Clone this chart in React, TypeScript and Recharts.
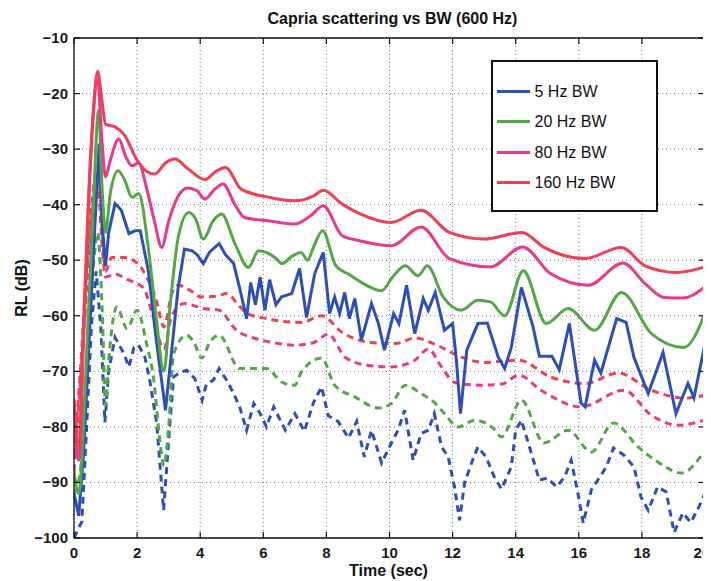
import React from 'react';
import { LineChart, Line, XAxis, YAxis, CartesianGrid, Legend } from 'recharts';

const FONT = '"Liberation Sans", Arial, Helvetica, sans-serif';

const xTicks = [0, 2, 4, 6, 8, 10, 12, 14, 16, 18, 20];
const yTicks = [-100, -90, -80, -70, -60, -50, -40, -30, -20, -10];
const legendNames = ['5 Hz BW', '20 Hz BW', '80 Hz BW', '160 Hz BW'];
const seriesColors = ['#2d4fb8', '#52a845', '#e8398a', '#ef3f55'];

const titleText = 'Capria scattering vs BW (600 Hz)';
const xLabelText = 'Time (sec)';
const yLabelText = 'RL (dB)';

// [time (sec), RL (dB)]
const bw160Solid: [number, number][] = [
  [0, -75], [0.15, -84], [0.3, -62], [0.45, -40], [0.6, -24], [0.75, -16], [0.88, -21], [1.0, -25.5],
  [1.3, -26], [1.6, -27.5], [2.0, -32], [2.3, -34], [2.56, -34.5], [2.9, -32.5], [3.2, -31.8], [3.6, -33.5],
  [4.15, -35.5], [4.5, -34], [4.8, -33.3], [5.3, -37.2], [6.2, -38.7], [7.0, -39.3], [7.6, -38.4], [7.9, -37.4],
  [8.5, -39.9], [9.05, -41.6], [10.06, -43.2], [11.0, -41], [11.9, -45], [13.0, -46.2], [14.2, -45], [14.9, -47.7],
  [16.2, -49.7], [17.35, -47.7], [18.1, -51], [19.1, -52.2], [20, -51.2],
];

const bw80Solid: [number, number][] = [
  [0, -76], [0.15, -86], [0.3, -65], [0.45, -42], [0.6, -25], [0.75, -17.5], [0.88, -28], [1.0, -35],
  [1.15, -32], [1.42, -28.2], [1.65, -31.5], [1.84, -33], [2.05, -32.5], [2.3, -37], [2.55, -43], [2.78, -47.7],
  [3.0, -43], [3.3, -38.5], [3.6, -37], [3.9, -37.5], [4.15, -39], [4.45, -37.3], [4.73, -36.3], [5.1, -40],
  [5.4, -42.3], [6.15, -42.9], [7.0, -43.5], [7.5, -42], [7.9, -40.2], [8.5, -45.6], [9.05, -46.5], [10.06, -47.4],
  [11.0, -44], [11.9, -49.7], [13.2, -51.2], [14.22, -47.6], [15.1, -52.4], [16.3, -54.5], [17.4, -50.5],
  [18.1, -54.2], [18.7, -56.7], [19.3, -56.8], [20, -54.8],
];

const bw20Solid: [number, number][] = [
  [0, -88], [0.15, -92], [0.3, -80], [0.45, -60], [0.6, -42], [0.78, -23], [0.9, -38], [1.0, -45],
  [1.15, -38], [1.4, -33.9], [1.6, -35.5], [1.84, -38.7], [2.05, -38], [2.36, -48], [2.6, -60], [2.85, -70],
  [3.05, -58], [3.3, -46], [3.63, -41.4], [3.85, -42.5], [4.1, -46.2], [4.4, -43], [4.68, -41.7], [5.1, -47],
  [5.53, -51.3], [5.85, -48.3], [6.37, -49.5], [6.6, -50.6], [6.9, -49.3], [7.2, -48.6], [7.4, -50], [7.6, -47.5],
  [7.88, -44.7], [8.3, -51], [8.7, -52.5], [9.2, -54.3], [9.75, -55.5], [10.1, -53], [10.5, -51], [10.9, -52.8],
  [11.2, -51], [11.7, -56.6], [12.28, -59], [12.8, -57.2], [13.2, -57.5], [13.65, -60], [14.24, -51.9],
  [14.97, -61.4], [15.66, -58.7], [16.5, -62.6], [17.35, -55.8], [18.3, -63.2], [19.33, -65.7], [20, -59.6],
];

const bw5Solid: [number, number][] = [
  [0, -92], [0.15, -96], [0.3, -85], [0.5, -62], [0.65, -45], [0.8, -29], [0.9, -44], [1.0, -51],
  [1.1, -45], [1.3, -39.8], [1.5, -41], [1.74, -45.2], [1.93, -44.7], [2.1, -44.7], [2.36, -52], [2.6, -64],
  [2.9, -77], [3.1, -66], [3.3, -55], [3.5, -48], [3.75, -48.3], [3.9, -49], [4.1, -50.6], [4.3, -48.5],
  [4.6, -47], [4.8, -49], [5.06, -50.6], [5.25, -55], [5.47, -60.5], [5.6, -54], [5.75, -58], [5.9, -53],
  [6.05, -59], [6.2, -53.5], [6.4, -58], [6.58, -56.6], [6.9, -56], [7.15, -51.5], [7.37, -60.3], [7.63, -52.4],
  [7.9, -48.6], [8.1, -59.6], [8.26, -56.6], [8.42, -59.6], [8.58, -55.8], [8.73, -60.5], [8.9, -56.9],
  [9.11, -64.4], [9.43, -57.8], [9.65, -61.4], [9.84, -66.2], [10.13, -59.6], [10.3, -61.4], [10.54, -54.5],
  [10.8, -63.2], [11.07, -56.9], [11.23, -59], [11.45, -55.8], [11.74, -62.6], [12.0, -61.4], [12.12, -68],
  [12.25, -77.6], [12.45, -66.2], [12.8, -61.4], [13.1, -61.3], [13.45, -67.5], [13.65, -69.5], [13.86, -65.7],
  [14.18, -54.9], [14.55, -62], [14.75, -67.3], [15.15, -67.3], [15.38, -69.7], [15.7, -61.4], [16.07, -75.7],
  [16.2, -76.4], [16.5, -68], [16.7, -70.3], [17.2, -60.5], [17.5, -61.2], [17.75, -67.5], [18.2, -74],
  [18.67, -66.6], [19.08, -77.6], [19.46, -72.2], [19.65, -74.8], [20, -65],
];

const bw160Dashed: [number, number][] = [
  [0, -85], [0.2, -70], [0.4, -52], [0.6, -38], [0.75, -33], [0.9, -45], [1.0, -52], [1.2, -49.5],
  [1.6, -49.5], [2.0, -50.5], [2.3, -53], [2.6, -57], [2.85, -62], [3.1, -56], [3.3, -54.5], [3.7, -55.5],
  [4.0, -56.6], [4.5, -56.5], [4.85, -56], [5.2, -58], [5.5, -59.6], [6.1, -60.5], [6.6, -61], [7.2, -61.2],
  [7.85, -60], [8.5, -63], [9.4, -64.8], [10.2, -65], [10.8, -64], [11.5, -65.3], [12.3, -67.5], [13.0, -68.4],
  [14.1, -68], [15.1, -71], [16.2, -72.2], [17.25, -70.3], [18.3, -73.4], [19.35, -74.8], [20, -74.3],
];

const bw80Dashed: [number, number][] = [
  [0, -88], [0.2, -72], [0.4, -55], [0.6, -40], [0.75, -36], [0.9, -48], [1.0, -53], [1.3, -52.5],
  [1.7, -53.5], [2.2, -55], [2.5, -60], [2.85, -66], [3.1, -60], [3.5, -57.8], [4.1, -58.7], [4.6, -59],
  [5.15, -62.6], [5.7, -64], [6.3, -64.8], [7.0, -65.3], [7.6, -64.8], [8.06, -63.3], [8.6, -67.5], [9.3, -68.9],
  [10.06, -69.2], [10.8, -68], [11.23, -66], [11.65, -69.2], [12.06, -72], [12.9, -72.5], [13.55, -72.3],
  [14.1, -70.7], [14.8, -73.4], [16.07, -76.4], [17.43, -73.4], [18.3, -77.9], [19.15, -79.7], [20, -78.8],
];

const bw20Dashed: [number, number][] = [
  [0, -92], [0.2, -88], [0.4, -70], [0.6, -52], [0.75, -45], [0.9, -60], [1.0, -76], [1.1, -68],
  [1.36, -58.4], [1.68, -62.3], [2.0, -59], [2.3, -65], [2.53, -71.6], [2.72, -82.4], [2.85, -87], [3.0, -80],
  [3.16, -66.8], [3.57, -63.5], [3.8, -64.8], [4.05, -67.6], [4.3, -64.8], [4.6, -63.5], [5.25, -69.5],
  [5.7, -69.5], [6.1, -69.5], [6.6, -72], [7.0, -72.5], [7.2, -70.2], [7.85, -67.6], [8.26, -72.5], [8.9, -74.6],
  [9.65, -76.6], [10.06, -75.8], [10.5, -72.5], [11.0, -74], [11.42, -75.6], [11.74, -77.6], [12.18, -80],
  [12.7, -78.8], [13.3, -80.3], [13.55, -81.8], [14.18, -75.2], [14.9, -82.9], [15.66, -80.6], [16.4, -84.5],
  [17.1, -79.3], [17.88, -83.6], [18.5, -86.3], [19.25, -88.3], [20, -84.2],
];

const bw5Dashed: [number, number][] = [
  [0, -100], [0.25, -97], [0.4, -80], [0.55, -62], [0.7, -52], [0.85, -62], [0.98, -79.2], [1.1, -70],
  [1.3, -63.9], [1.58, -66.8], [1.74, -69.2], [1.9, -65.7], [2.05, -65.3], [2.25, -67.5], [2.4, -71.6],
  [2.62, -79.3], [2.84, -95], [3.04, -79.3], [3.16, -71], [3.36, -70.2], [3.57, -69.8], [3.83, -71.3],
  [4.06, -75.2], [4.2, -72.2], [4.42, -71.6], [4.6, -69.5], [4.84, -71.6], [5.06, -74], [5.25, -76.4],
  [5.47, -80.6], [5.7, -75.8], [5.9, -77.6], [6.1, -80], [6.33, -76.4], [6.58, -79.3], [6.7, -80.6], [7.0, -77.6],
  [7.3, -80.8], [7.6, -75.5], [7.85, -72.8], [8.06, -78], [8.37, -79], [8.7, -82], [8.96, -79], [9.2, -85.4],
  [9.43, -80.6], [9.75, -86.5], [10.06, -82.9], [10.27, -80.6], [10.48, -77], [10.75, -86], [11.0, -81.2],
  [11.23, -80.6], [11.42, -77.6], [11.65, -83.6], [11.86, -85.4], [12.06, -90.8], [12.22, -96.8], [12.38, -90.1],
  [12.6, -86.5], [12.8, -83.6], [13.06, -85.4], [13.32, -89], [13.55, -91.2], [13.86, -87.2], [14.0, -80.6],
  [14.18, -78.8], [14.5, -84.8], [14.75, -89.6], [15.0, -89.2], [15.3, -90.8], [15.55, -89], [15.76, -86],
  [15.97, -91.9], [16.14, -97.3], [16.4, -91.3], [16.6, -89.6], [16.87, -87.2], [17.1, -83.8], [17.43, -85.1],
  [17.75, -87.2], [17.97, -92.6], [18.2, -95], [18.5, -90.8], [18.77, -91.7], [19.02, -99], [19.3, -95.5],
  [19.55, -97.2], [19.8, -94.5], [20, -91.9],
];

const toRows = (pts: [number, number][]) => pts.map(([t, v]) => ({ t, v }));

const CHART_W = 703;

const BottomTick = (props: any) => {
  const { x, y, payload } = props;
  const label = String(payload.value);
  const halfW = label.length * 4.3;
  const tx = Math.min(x, CHART_W - halfW - 0.5);
  return (
    <g>
      <line x1={x} y1={y} x2={x} y2={y - 6} stroke="#111" strokeWidth={1.2} />
      <text x={tx} y={y + 20} textAnchor="middle" fontSize={15} fontWeight="bold" fontFamily={FONT} fill="#1a1a1a">
        {label}
      </text>
    </g>
  );
};

const LeftTick = (props: any) => {
  const { x, y, payload } = props;
  return (
    <g>
      <line x1={x} y1={y} x2={x + 6} y2={y} stroke="#111" strokeWidth={1.2} />
      <text x={x - 6} y={y + 5} textAnchor="end" fontSize={15} fontWeight="bold" fontFamily={FONT} fill="#1a1a1a">
        {String(payload.value).replace('-', '\u2212')}
      </text>
    </g>
  );
};

const TopTick = (props: any) => {
  const { x, y } = props;
  return <line x1={x} y1={y} x2={x} y2={y + 6} stroke="#111" strokeWidth={1.2} />;
};

const RightTick = (props: any) => {
  const { x, y } = props;
  return <line x1={x} y1={y} x2={x - 6} y2={y} stroke="#111" strokeWidth={1.2} />;
};

const LegendBox = (props: any) => {
  const payload = props.payload || [];
  const items = legendNames
    .map((n) => payload.find((p: any) => p.value === n))
    .filter(Boolean);
  const centers = [32, 62, 93, 123];
  return (
    <div
      style={{
        width: 167,
        height: 152,
        boxSizing: 'border-box',
        border: '2.5px solid #111',
        background: '#fff',
        position: 'relative',
        fontFamily: FONT,
      }}
    >
      {items.map((it: any, i: number) => (
        <div
          key={it.value}
          style={{
            position: 'absolute',
            left: 3.5,
            top: centers[i] - 2.5 - 10,
            height: 20,
            display: 'flex',
            alignItems: 'center',
            whiteSpace: 'nowrap',
          }}
        >
          <div style={{ width: 33, height: 3, background: it.color }} />
          <span style={{ marginLeft: 5, fontSize: 16, color: '#111' }}>{it.value}</span>
        </div>
      ))}
    </div>
  );
};

export default function App() {
  const solid = [
    { name: legendNames[0], data: bw5Solid, color: seriesColors[0], type: 'linear' },
    { name: legendNames[1], data: bw20Solid, color: seriesColors[1], type: 'monotone' },
    { name: legendNames[2], data: bw80Solid, color: seriesColors[2], type: 'monotone' },
    { name: legendNames[3], data: bw160Solid, color: seriesColors[3], type: 'monotone' },
  ];
  const dashed = [
    { name: legendNames[0] + ' dashed', data: bw5Dashed, color: seriesColors[0], type: 'linear' },
    { name: legendNames[1] + ' dashed', data: bw20Dashed, color: seriesColors[1], type: 'monotone' },
    { name: legendNames[2] + ' dashed', data: bw80Dashed, color: seriesColors[2], type: 'monotone' },
    { name: legendNames[3] + ' dashed', data: bw160Dashed, color: seriesColors[3], type: 'monotone' },
  ];

  return (
    <div style={{ width: CHART_W, height: 573 }}>
      <LineChart width={CHART_W} height={573} margin={{ top: 29, right: 5, bottom: 0, left: 0 }}>
        <CartesianGrid stroke="#777" strokeDasharray="1 3" strokeWidth={1} />
        <XAxis
          dataKey="t"
          type="number"
          domain={[0, 20]}
          ticks={xTicks}
          interval={0}
          allowDataOverflow
          height={43}
          tickSize={0}
          tickMargin={0}
          tickLine={false}
          axisLine={{ stroke: '#111', strokeWidth: 1.3 }}
          tick={(p: any) => <BottomTick {...p} />}
          label={(p: any) => {
            const vb = p.viewBox || {};
            return (
              <text
                x={vb.x + vb.width / 2 - 1}
                y={vb.y + 38}
                textAnchor="middle"
                fontSize={16}
                fontWeight="bold"
                fontFamily={FONT}
                fill="#111"
              >
                {xLabelText}
              </text>
            );
          }}
        />
        <XAxis
          xAxisId="top"
          orientation="top"
          dataKey="t"
          type="number"
          domain={[0, 20]}
          ticks={xTicks}
          interval={0}
          allowDataOverflow
          height={1}
          tickSize={0}
          tickMargin={0}
          tickLine={false}
          axisLine={{ stroke: '#111', strokeWidth: 1.3 }}
          tick={(p: any) => <TopTick {...p} />}
          label={(p: any) => {
            const vb = p.viewBox || {};
            return (
              <text
                x={vb.x + vb.width / 2 + 3}
                y={vb.y + vb.height - 14}
                textAnchor="middle"
                fontSize={16}
                fontWeight="bold"
                fontFamily={FONT}
                fill="#111"
              >
                {titleText}
              </text>
            );
          }}
        />
        <YAxis
          type="number"
          domain={[-100, -10]}
          ticks={yTicks}
          interval={0}
          allowDataOverflow
          width={66}
          tickSize={0}
          tickMargin={0}
          tickLine={false}
          axisLine={{ stroke: '#111', strokeWidth: 1.3 }}
          tick={(p: any) => <LeftTick {...p} />}
          label={(p: any) => {
            const vb = p.viewBox || {};
            const cx = 19;
            const cy = vb.y + vb.height / 2;
            return (
              <text
                x={cx}
                y={cy}
                transform={`rotate(-90, ${cx}, ${cy})`}
                textAnchor="middle"
                fontSize={16}
                fontWeight="bold"
                fontFamily={FONT}
                fill="#111"
              >
                {yLabelText}
              </text>
            );
          }}
        />
        <YAxis
          yAxisId="right"
          orientation="right"
          type="number"
          domain={[-100, -10]}
          ticks={yTicks}
          interval={0}
          allowDataOverflow
          width={1}
          tickSize={0}
          tickMargin={0}
          tickLine={false}
          axisLine={{ stroke: '#111', strokeWidth: 1.3 }}
          tick={(p: any) => <RightTick {...p} />}
        />
        <Legend
          layout="horizontal"
          verticalAlign="middle"
          align="center"
          wrapperStyle={{ left: 483, top: 52, width: 167, height: 152 }}
          content={(p: any) => <LegendBox {...p} />}
        />
        {dashed.map((s) => (
          <Line
            key={s.name}
            name={s.name}
            data={toRows(s.data)}
            dataKey="v"
            type={s.type as any}
            stroke={s.color}
            strokeWidth={3}
            strokeDasharray="7 5"
            dot={false}
            activeDot={false}
            legendType="none"
            isAnimationActive={false}
          />
        ))}
        {solid.map((s) => (
          <Line
            key={s.name}
            name={s.name}
            data={toRows(s.data)}
            dataKey="v"
            type={s.type as any}
            stroke={s.color}
            strokeWidth={3}
            dot={false}
            activeDot={false}
            legendType="line"
            isAnimationActive={false}
          />
        ))}
      </LineChart>
    </div>
  );
}
